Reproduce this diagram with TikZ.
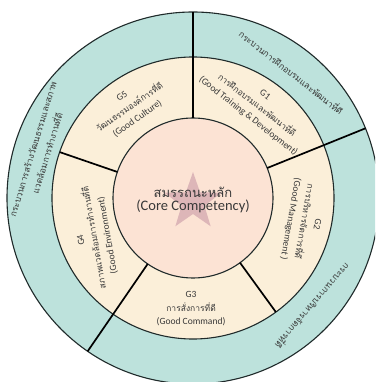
\documentclass[tikz,border=0pt]{standalone}
\usepackage{fontspec}
\setmainfont{Carlito}
\newfontfamily\thaifont[Script=Thai]{Loma}
\usetikzlibrary{shapes.geometric}
\definecolor{tealring}{HTML}{BDE2DC}
\definecolor{beigering}{HTML}{FBEFD9}
\definecolor{peachcore}{HTML}{FCE3D4}
\definecolor{starcol}{HTML}{DDB6B8}
\definecolor{edgecol}{HTML}{1F2A2A}
\definecolor{txt}{HTML}{383838}
\newcommand{\thline}[1]{{\thaifont\fontsize{8.5}{13.5}\selectfont #1}}
\begin{document}
\begin{tikzpicture}[x=1pt,y=1pt,
  ringedge/.style={draw=edgecol, line width=1.1pt},
  divider/.style={draw=black, line width=1.7pt},
  glabel/.style={align=center, text=txt, inner sep=0pt,
    font=\fontsize{9.5}{13.5}\selectfont},
  tlabel/.style={align=center, text=txt, inner sep=0pt,
    font=\thaifont\fontsize{8.7}{10}\selectfont},
]
\useasboundingbox (-193,-184) rectangle (182,198);
\fill[white] (-193,-184) rectangle (182,198);
\clip (-193,-184) rectangle (182,198);
% rings
\filldraw[fill=tealring, ringedge] (0,0) circle (186);
\filldraw[fill=beigering, ringedge] (0,0) circle (141);
\filldraw[fill=peachcore, ringedge] (0,0) circle (80);
% star
\node[star, star points=5, star point ratio=2.5, minimum size=60pt,
  fill=starcol, inner sep=0pt] (star) at (0,-4) {};
% divider end points
\coordinate (a1) at (90:186);  \coordinate (b1) at (90:80);
\coordinate (a2) at (22:186);  \coordinate (b2) at (22:80);
\coordinate (a3) at (306:141); \coordinate (b3) at (306:80);
\coordinate (a4) at (235.5:186); \coordinate (b4) at (235.5:80);
\coordinate (a5) at (161:141); \coordinate (b5) at (161:80);
\draw[divider] (a1) -- (b1);
\draw[divider] (a2) -- (b2);
\draw[divider] (a3) -- (b3);
\draw[divider] (a4) -- (b4);
\draw[divider] (a5) -- (b5);
% centre
\node[align=center, text=txt, inner sep=0pt] (core) at (0,-2)
  {{\thaifont\fontsize{13}{17}\selectfont สมรรถนะหลัก}\\[1pt]
   {\fontsize{14.5}{17}\selectfont (Core Competency)}};
% G segments
\node[glabel, rotate=35] (g5) at (125:110)
  {G5\\\thline{วัฒนธรรมองค์การที่ดี}\\(Good Culture)};
\node[glabel, rotate=-38] (g1) at (55.5:112)
  {G1\\\thline{การฝึกอบรมและพัฒนาที่ดี}\\(Good Training \& Development)};
\node[glabel, rotate=-100] (g2) at (-12:113)
  {G2\\\thline{การบริหารจัดการที่ดี}\\(Good Management )};
\node[glabel] (g3) at (-91:111)
  {G3\\\thline{การสั่งการที่ดี}\\(Good Command)};
\node[glabel, rotate=100] (g4) at (202:106)
  {G4\\\thline{สภาพแวดล้อมการทำงานที่ดี}\\(Good Environment)};
% outer ring labels
\node[tlabel, rotate=-38] (p1) at (52:160) {กระบวนการฝึกอบรมและพัฒนาที่ดี};
\node[tlabel, rotate=-131] (p2) at (-42:162) {กระบวนการบริหารจัดการที่ดี};
\node[tlabel, rotate=73, font=\thaifont\fontsize{8.7}{15}\selectfont] (p3) at (163:160)
  {กระบวนการสร้างวัฒนธรรมและสภาพ\\แวดล้อมการทำงานที่ดี};
\end{tikzpicture}
\end{document}
